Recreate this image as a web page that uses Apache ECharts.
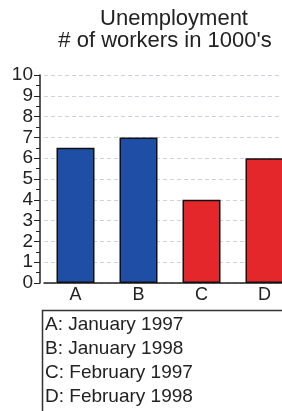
<!DOCTYPE html>
<html lang="en">
<head>
    <meta charset="UTF-8">
    <title>Unemployment</title>
    <style>
        html, body {
            margin: 0;
            padding: 0;
            background: #fff;
        }

        #main {
            width: 282px;
            height: 411px;
        }
    </style>
    <script src="https://cdn.jsdelivr.net/npm/echarts@6/dist/echarts.min.js"></script>
</head>
<body>
<div id="main"></div>
<script>
    // categories and values (thousands of workers)
    var categories = ['A', 'B', 'C', 'D'];
    var workers = [6.5, 7, 4, 6];
    // which month each bar belongs to: January bars blue, February bars red
    var monthGroup = ['Jan', 'Jan', 'Feb', 'Feb'];
    var groupColors = {Jan: '#1f4ea6', Feb: '#e4272b'};
    // key box under the chart
    var keyLines = ['A: January 1997', 'B: January 1998', 'C: February 1997', 'D: February 1998'];

    var font = 'Liberation Sans, Arial, sans-serif';

    var myChart = echarts.init(document.getElementById('main'));

    // key text, one line each
    var keyTexts = keyLines.map(function (line, i) {
        return {
            type: 'text',
            left: 45,
            top: 315 + i * 24,
            style: {
                text: line,
                fill: '#222',
                font: '19px ' + font
            }
        };
    });

    var titleStyle = {
        fontFamily: font,
        fontSize: 22,
        fontWeight: 'normal',
        color: '#222'
    };

    var option = {
        animation: false,
        // two title lines, each centred a little differently as in the original
        title: [
            {
                text: 'Unemployment',
                left: 174,
                top: 8,
                textAlign: 'center',
                padding: 0,
                textStyle: titleStyle
            },
            {
                text: '# of workers in 1000\'s',
                left: 165,
                top: 30,
                textAlign: 'center',
                padding: 0,
                textStyle: titleStyle
            }
        ],
        grid: {
            left: 44,
            top: 75,
            width: 252,
            height: 208,
            outerBoundsMode: 'none'
        },
        xAxis: {
            type: 'category',
            data: categories,
            axisLine: {lineStyle: {color: '#222', width: 1.5}},
            axisTick: {show: false},
            axisLabel: {
                color: '#222',
                fontFamily: font,
                fontSize: 18,
                margin: 3
            }
        },
        yAxis: {
            type: 'value',
            min: 0,
            max: 10,
            interval: 1,
            offset: 4,
            axisLine: {show: true, lineStyle: {color: '#222', width: 1.5}},
            axisTick: {show: true, length: 6, lineStyle: {color: '#222'}},
            minorTick: {show: true, splitNumber: 2, length: 4, lineStyle: {color: '#222'}},
            axisLabel: {
                color: '#222',
                fontFamily: font,
                fontSize: 19,
                margin: 7
            },
            splitLine: {
                show: true,
                lineStyle: {color: '#cfd3db', type: [4, 3], width: 1}
            }
        },
        series: [
            {
                type: 'bar',
                data: workers,
                barWidth: 38,
                itemStyle: {
                    color: function (p) {
                        return groupColors[monthGroup[p.dataIndex]];
                    },
                    borderColor: '#111',
                    borderWidth: 1.5
                }
            }
        ],
        graphic: [
            {
                type: 'rect',
                left: 40,
                top: 308,
                shape: {width: 270, height: 130},
                style: {fill: 'none', stroke: '#333', lineWidth: 1.5}
            }
        ].concat(keyTexts)
    };

    myChart.setOption(option);
</script>
</body>
</html>
